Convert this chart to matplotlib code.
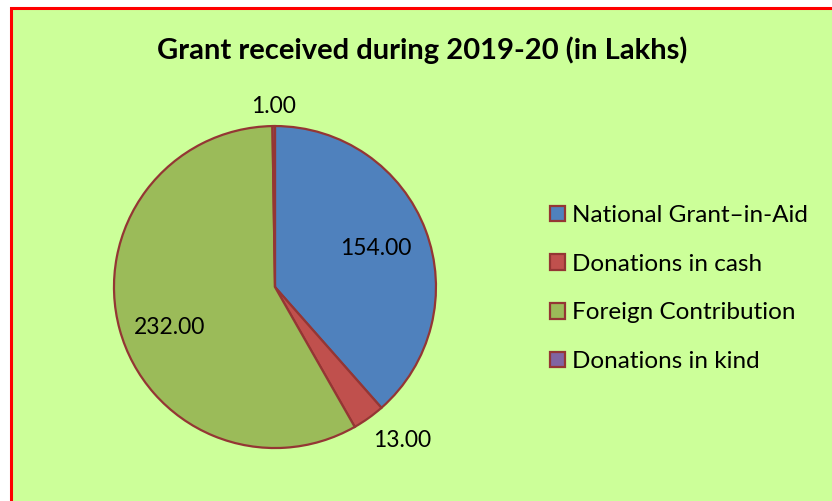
import numpy as np
import matplotlib
matplotlib.use("Agg")
import matplotlib.pyplot as plt
from matplotlib.patches import Rectangle

# data
labels = ["National Grant\u2013in-Aid", "Donations in cash", "Foreign Contribution", "Donations in kind"]
values = [154.0, 13.0, 232.0, 1.0]
colors = ["#4F81BD", "#C0504D", "#9BBB59", "#8064A2"]
label_dist = [0.67, 1.24, 0.70, 1.12]
label_turn = [0, 4, 5.5, 0]

plt.rcParams['font.family'] = ['Lato', 'DejaVu Sans']

fig = plt.figure(figsize=(8.32, 5.01), dpi=100, facecolor="white")

# chart area background with red border
bg = Rectangle((11 / 832, -0.05), 1.2, 1 - 7.5 / 501 + 0.05, transform=fig.transFigure,
               facecolor="#CCFF99", edgecolor="#FF0000", linewidth=2.2, zorder=-10)
fig.patches.append(bg)

ax = fig.add_axes([0.137, 0.1057, 0.387, 0.6427])
wedges, _ = ax.pie(values, colors=colors, startangle=90, counterclock=False,
                   wedgeprops=dict(edgecolor="#943634", linewidth=1.6))
ax.set_xlim(-1, 1)
ax.set_ylim(-1, 1)
ax.set_aspect("equal")
ax.axis("off")

for w, v, d, t in zip(wedges, values, label_dist, label_turn):
    ang = np.deg2rad((w.theta1 + w.theta2) / 2 + t)
    ax.text(d * np.cos(ang), d * np.sin(ang), f"{v:.2f}", ha="center", va="center",
            fontsize=16.5, color="black", clip_on=False)

fig.text(0.508, 0.9, "Grant received during 2019-20 (in Lakhs)", ha="center", va="center",
         fontsize=21, fontweight="bold")

leg = fig.legend(wedges, labels, loc="center left", bbox_to_anchor=(0.661, 0.424),
                 frameon=False, fontsize=17.5, handlelength=0.6, handleheight=0.6,
                 handletextpad=0.3, labelspacing=1.135, borderpad=0, borderaxespad=0)

fig.savefig("out.png", dpi=100, facecolor=fig.get_facecolor())
